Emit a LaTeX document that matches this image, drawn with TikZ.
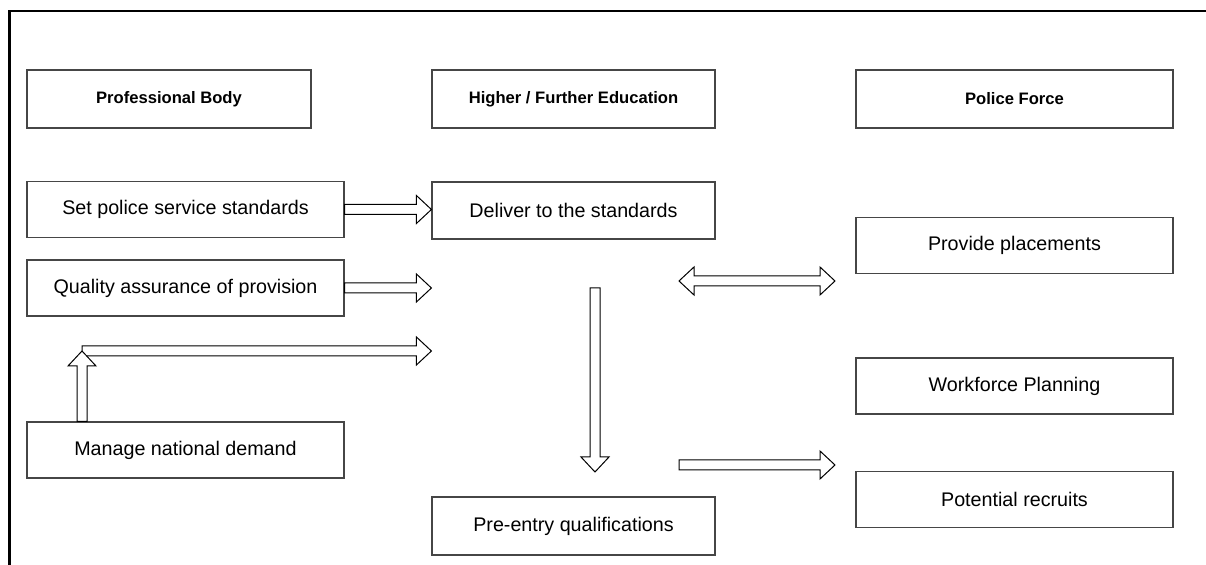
\documentclass[tikz,border=0pt]{standalone}
\usepackage{fontspec}
\setmainfont{Liberation Sans}
\usetikzlibrary{calc}
% mui ten khoi
\newcommand{\muiphai}[2]{\draw[muiten] let \p1=(#1), \p2=(#2) in (\x1,\y1+2.5pt) -- (\x2-7.5pt,\y1+2.5pt) -- (\x2-7.5pt,\y1+7pt) -- (\x2,\y1) -- (\x2-7.5pt,\y1-7pt) -- (\x2-7.5pt,\y1-2.5pt) -- (\x1,\y1-2.5pt) -- cycle;}
\newcommand{\muilen}[2]{\draw[muiten] let \p1=(#1), \p2=(#2) in (\x1-2.5pt,\y1) -- (\x1-2.5pt,\y2-7.5pt) -- (\x1-7pt,\y2-7.5pt) -- (\x1,\y2) -- (\x1+7pt,\y2-7.5pt) -- (\x1+2.5pt,\y2-7.5pt) -- (\x1+2.5pt,\y1) -- cycle;}
\newcommand{\muixuong}[2]{\draw[muiten] let \p1=(#1), \p2=(#2) in (\x1-2.5pt,\y1) -- (\x1-2.5pt,\y2+7.5pt) -- (\x1-7pt,\y2+7.5pt) -- (\x1,\y2) -- (\x1+7pt,\y2+7.5pt) -- (\x1+2.5pt,\y2+7.5pt) -- (\x1+2.5pt,\y1) -- cycle;}
\newcommand{\muihai}[2]{\draw[muiten] let \p1=(#1), \p2=(#2) in (\x1,\y1) -- (\x1+7.5pt,\y1+7pt) -- (\x1+7.5pt,\y1+2.5pt) -- (\x2-7.5pt,\y1+2.5pt) -- (\x2-7.5pt,\y1+7pt) -- (\x2,\y1) -- (\x2-7.5pt,\y1-7pt) -- (\x2-7.5pt,\y1-2.5pt) -- (\x1+7.5pt,\y1-2.5pt) -- (\x1+7.5pt,\y1-7pt) -- cycle;}
\begin{document}
\begin{tikzpicture}[x=0.5pt,y=-0.5pt]
	\definecolor{vien}{RGB}{70,70,70}
	\tikzset{
		hop/.style={draw=vien,line width=0.6pt,minimum height=28pt,inner sep=0pt,font=\fontsize{9.85}{11}\selectfont},
		tieude/.style={hop,minimum height=29pt,font=\fontsize{8.3}{10}\selectfont\bfseries},
		muiten/.style={draw=black,fill=white,line width=0.5pt,line join=miter}
	}
	\useasboundingbox (0,0) rectangle (1206,565);
	
	%Khung
	\draw[line width=1.2pt] (1206,11) -- (9.5,11) -- (9.5,565);
	
	%Tieu de
	\node[tieude,minimum width=142pt] (pb) at (169,99) {Professional Body};
	\node[tieude,minimum width=141.5pt] (hfe) at (573.5,99) {Higher / Further Education};
	\node[tieude,minimum width=158.5pt] (pf) at (1014.5,99) {Police Force};
	
	%Cot trai
	\node[hop,minimum width=158.5pt] (set) at (185.5,209.5) {Set police service standards};
	\node[hop,minimum width=158.5pt] (quality) at (185.5,288) {Quality assurance of provision};
	\node[hop,minimum width=158.5pt] (manage) at (185.5,450) {Manage national demand};
	
	%Cot giua
	\node[hop,minimum width=141.5pt,minimum height=28.5pt] (deliver) at (573.5,210.5) {Deliver to the standards};
	\node[hop,minimum width=141.5pt,minimum height=29pt] (pre) at (573.5,526) {Pre-entry qualifications};
	
	%Cot phai
	\node[hop,minimum width=158.5pt] (place) at (1014.5,245.5) {Provide placements};
	\node[hop,minimum width=158.5pt] (plan) at (1014.5,386) {Workforce Planning};
	\node[hop,minimum width=158.5pt] (recruit) at (1014.5,499.5) {Potential recruits};
	
	\coordinate (qaend) at (deliver.west |- quality.east);
	\coordinate (gap) at (82,351);
	\coordinate (gapend) at (deliver.west |- gap);
	\coordinate (xtren) at (595,288);
	\coordinate (xduoi) at (595,472);
	\coordinate (dtrai) at (679,281);
	\coordinate (dphai) at (835,281);
	\coordinate (rtrai) at (679,465);
	\coordinate (rphai) at (835,465);
	
	%Mui ten
	\muiphai{set.east}{deliver.west}
	\muiphai{quality.east}{qaend}
	\muiphai{gap}{gapend}
	\muilen{manage.north -| gap}{gap}
	\muixuong{xtren}{xduoi}
	\muihai{dtrai}{dphai}
	\muiphai{rtrai}{rphai}
\end{tikzpicture}
\end{document}
